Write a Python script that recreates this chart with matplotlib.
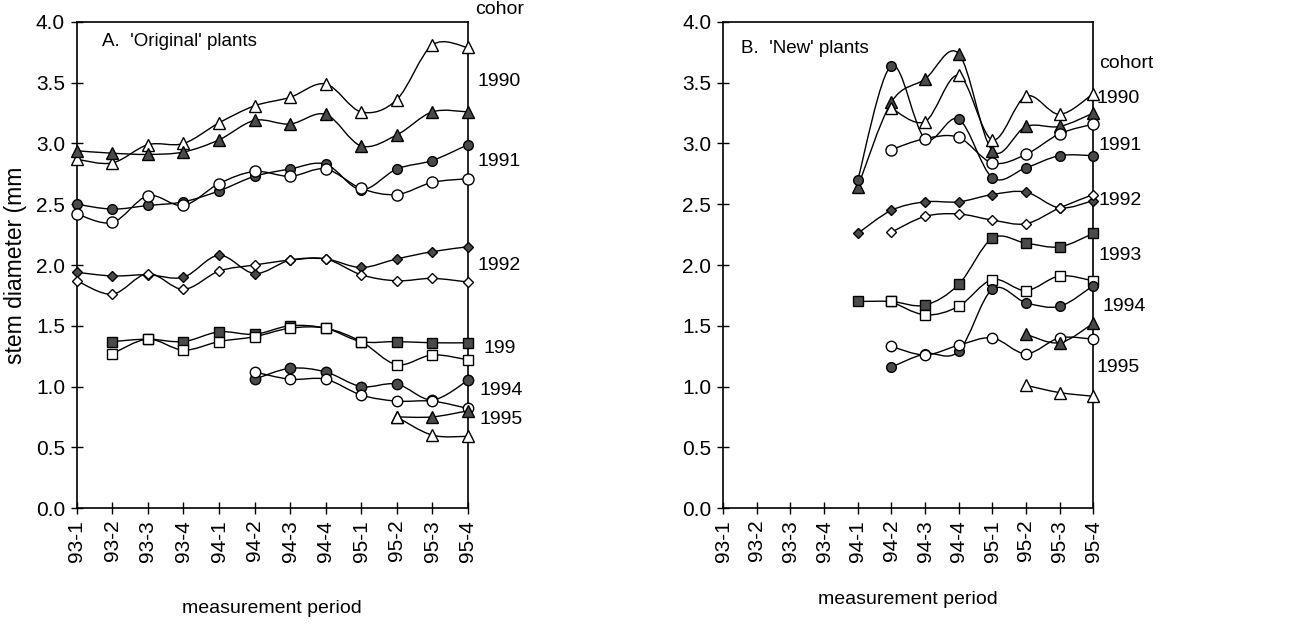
import numpy as np
import matplotlib
matplotlib.use("Agg")
import matplotlib.pyplot as plt
from matplotlib.path import Path
from matplotlib.patches import PathPatch

plt.rcParams['font.family'] = ['Liberation Sans', 'DejaVu Sans']

periods = ['93-1', '93-2', '93-3', '93-4', '94-1', '94-2', '94-3', '94-4',
           '95-1', '95-2', '95-3', '95-4']

# panel A, 'original' plants: (first period index, values)
a_1990_open = (0, [2.87, 2.84, 2.99, 3.00, 3.17, 3.31, 3.38, 3.49, 3.26, 3.36, 3.81, 3.79])
a_1990_fill = (0, [2.94, 2.92, 2.91, 2.93, 3.03, 3.19, 3.16, 3.24, 2.98, 3.07, 3.26, 3.26])
a_1991_fill = (0, [2.50, 2.46, 2.49, 2.52, 2.61, 2.73, 2.79, 2.83, 2.62, 2.79, 2.86, 2.99])
a_1991_open = (0, [2.42, 2.35, 2.57, 2.49, 2.67, 2.77, 2.73, 2.79, 2.63, 2.58, 2.68, 2.71])
a_1992_fill = (0, [1.94, 1.91, 1.92, 1.90, 2.08, 1.93, 2.04, 2.05, 1.98, 2.05, 2.11, 2.15])
a_1992_open = (0, [1.87, 1.76, 1.93, 1.80, 1.95, 2.00, 2.04, 2.05, 1.92, 1.87, 1.89, 1.86])
a_1993_fill = (1, [1.37, 1.39, 1.37, 1.45, 1.43, 1.50, 1.48, 1.37, 1.37, 1.36, 1.36])
a_1993_open = (1, [1.27, 1.39, 1.30, 1.37, 1.41, 1.48, 1.48, 1.37, 1.18, 1.26, 1.22])
a_1994_fill = (5, [1.06, 1.15, 1.12, 1.00, 1.02, 0.89, 1.05])
a_1994_open = (5, [1.12, 1.06, 1.06, 0.93, 0.88, 0.88, 0.82])
a_1995_fill = (9, [0.75, 0.75, 0.80])
a_1995_open = (9, [0.75, 0.60, 0.59])

# panel B, 'new' plants
b_1990_fill = (4, [2.64, 3.34, 3.53, 3.74, 2.94, 3.14, 3.14, 3.25])
b_1990_open = (5, [3.29, 3.18, 3.56, 3.03, 3.39, 3.24, 3.41])
b_1991_fill = (4, [2.70, 3.64, 3.04, 3.20, 2.72, 2.80, 2.90, 2.90])
b_1991_open = (5, [2.95, 3.04, 3.05, 2.84, 2.91, 3.08, 3.16])
b_1992_fill = (4, [2.26, 2.45, 2.52, 2.52, 2.58, 2.60, 2.47, 2.53])
b_1992_open = (5, [2.27, 2.40, 2.42, 2.37, 2.34, 2.47, 2.58])
b_1993_fill = (4, [1.70, 1.70, 1.67, 1.84, 2.22, 2.18, 2.15, 2.26])
b_1993_open = (5, [1.70, 1.59, 1.66, 1.88, 1.79, 1.91, 1.87])
b_1994_fill = (5, [1.16, 1.27, 1.29, 1.80, 1.69, 1.66, 1.83])
b_1994_open = (5, [1.33, 1.26, 1.34, 1.40, 1.27, 1.40, 1.39])
b_1995_fill = (9, [1.43, 1.36, 1.52])
b_1995_open = (9, [1.01, 0.95, 0.92])

# cohort labels at the right of each panel: text, y value, x offset (axes fraction)
a_labels = [('cohor', 4.10, 0.02), ('1990', 3.51, 0.025), ('1991', 2.85, 0.025),
            ('1992', 2.00, 0.025), ('199', 1.31, 0.04), ('1994', 0.97, 0.03),
            ('1995', 0.73, 0.03)]
b_labels = [('cohort', 3.66, 0.015), ('1990', 3.37, 0.01), ('1991', 2.98, 0.015),
            ('1992', 2.53, 0.015), ('1993', 2.08, 0.015), ('1994', 1.66, 0.025),
            ('1995', 1.16, 0.01)]

FILL = '#4a4a4a'


def smooth_path(xs, ys):
    # Excel style smoothed line (Catmull-Rom as cubic Bezier)
    pts = np.column_stack([xs, ys]).astype(float)
    n = len(pts)
    verts = [pts[0]]
    codes = [Path.MOVETO]
    for i in range(n - 1):
        p0 = pts[max(i - 1, 0)]
        p1 = pts[i]
        p2 = pts[i + 1]
        p3 = pts[min(i + 2, n - 1)]
        verts += [p1 + (p2 - p0) / 6, p2 - (p3 - p1) / 6, p2]
        codes += [Path.CURVE4] * 3
    return Path(verts, codes)


def draw_series(ax, series, marker, filled, ms):
    start, vals = series
    xs = np.arange(start, start + len(vals))
    ax.add_patch(PathPatch(smooth_path(xs, vals), fill=False, ec='black',
                           lw=1.0, clip_on=False, zorder=2))
    ax.plot(xs, vals, ls='none', marker=marker, ms=ms, mew=1.0, mec='black',
            mfc=FILL if filled else 'white', clip_on=False, zorder=3)


def style_axes(ax, labelpad):
    ax.set_xlim(0, 11)
    ax.set_ylim(0, 4)
    ax.set_xticks(range(len(periods)))
    ax.set_xticklabels(periods, rotation=90, fontsize=15)
    ax.set_yticks(np.arange(0, 4.01, 0.5))
    ax.set_yticklabels([f'{v:.1f}' for v in np.arange(0, 4.01, 0.5)], fontsize=15)
    ax.tick_params(direction='inout', length=9, width=1, pad=4)
    for s in ax.spines.values():
        s.set_linewidth(1.2)
    ax.set_xlabel('measurement period', fontsize=14, labelpad=labelpad)


fig = plt.figure(figsize=(13.03, 6.28), dpi=100)
ax_a = fig.add_axes([0.059, 0.191, 0.300, 0.774])
ax_b = fig.add_axes([0.555, 0.191, 0.284, 0.774])

for s, m, f, ms in [(a_1990_open, '^', False, 8), (a_1990_fill, '^', True, 8),
                    (a_1991_fill, 'o', True, 7), (a_1991_open, 'o', False, 8),
                    (a_1992_fill, 'D', True, 5.5), (a_1992_open, 'D', False, 5.5),
                    (a_1993_fill, 's', True, 7), (a_1993_open, 's', False, 7),
                    (a_1994_fill, 'o', True, 7.5), (a_1994_open, 'o', False, 7.5),
                    (a_1995_fill, '^', True, 8), (a_1995_open, '^', False, 8)]:
    draw_series(ax_a, s, m, f, ms)

for s, m, f, ms in [(b_1990_fill, '^', True, 8), (b_1990_open, '^', False, 8),
                    (b_1991_fill, 'o', True, 7), (b_1991_open, 'o', False, 8),
                    (b_1992_fill, 'D', True, 5.5), (b_1992_open, 'D', False, 5.5),
                    (b_1993_fill, 's', True, 7), (b_1993_open, 's', False, 7),
                    (b_1994_fill, 'o', True, 7), (b_1994_open, 'o', False, 7.5),
                    (b_1995_fill, '^', True, 8), (b_1995_open, '^', False, 8)]:
    draw_series(ax_b, s, m, f, ms)

style_axes(ax_a, 28)
style_axes(ax_b, 21)
ax_a.set_ylabel('stem diameter (mm', fontsize=16.5, labelpad=6)

ax_a.text(0.72, 3.84, "A.  'Original' plants", fontsize=13.5, va='center')
ax_b.text(0.52, 3.78, "B.  'New' plants", fontsize=13.5, va='center')

for ax, labels in [(ax_a, a_labels), (ax_b, b_labels)]:
    tr = ax.get_yaxis_transform()
    for txt, y, dx in labels:
        ax.text(1 + dx, y, txt, transform=tr, fontsize=14, va='center', ha='left',
                clip_on=False)

fig.savefig('out.png', dpi=100)
